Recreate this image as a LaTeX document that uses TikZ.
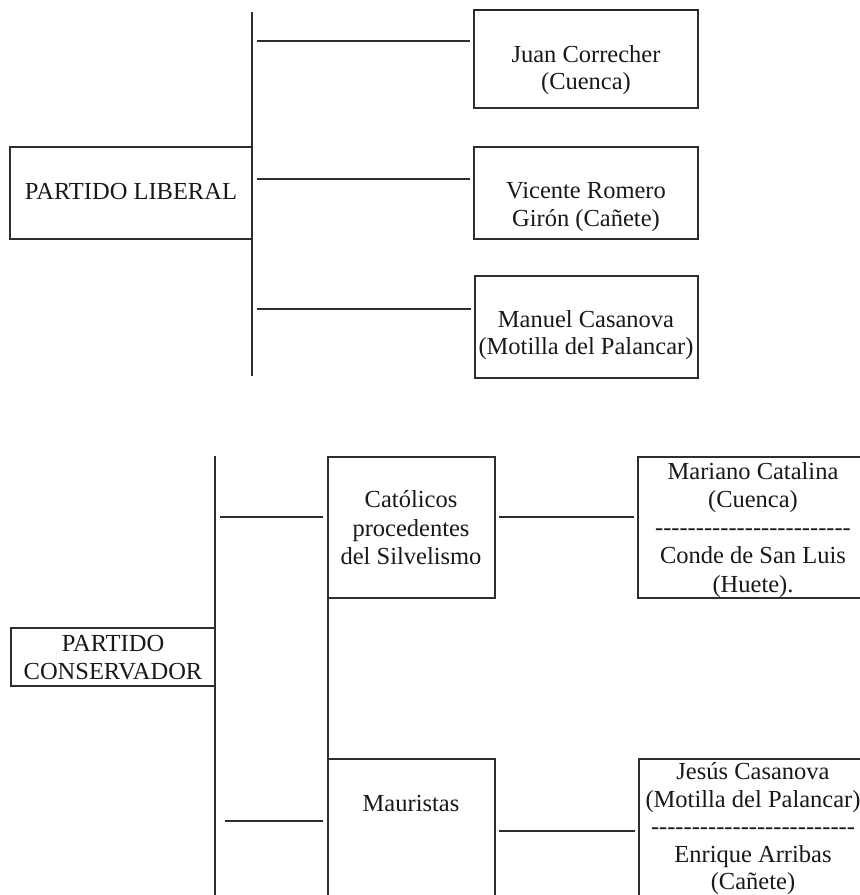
\documentclass[tikz,border=0pt]{standalone}
\usepackage{fontspec}
\setmainfont{Liberation Serif}
\def\hy{-{}}
\def\hyfive{\hy\hy\hy\hy\hy}
\begin{document}
\begin{tikzpicture}[x=1pt,y=-1pt,
  ink/.style={draw=black!82,line width=1.25pt},
  box/.style={ink,rectangle,inner sep=0pt,outer sep=0pt,anchor=north west},
  txt/.style={inner sep=0pt,align=center,text=black!90,font=\fontsize{24.5}{28}\selectfont},
  conn/.style={ink}]
\useasboundingbox (0,0) rectangle (860,895);
\clip (0,0) rectangle (860,895);
\fill[white] (0,0) rectangle (860,895);

% ---------------- PARTIDO LIBERAL ----------------
\node[box,minimum width=242pt,minimum height=92pt] (lib) at (10,147) {};
\node[txt] (libt) at (131,192) {PARTIDO LIBERAL};
\coordinate (bus1top) at (252,12);
\coordinate (bus1bot) at (252,376);
\draw[conn] (bus1top) -- (bus1bot);

\node[box,minimum width=224pt,minimum height=98pt] (juan) at (474,10) {};
\draw[line width=2.2pt,black!85] (juan.north west) -- (juan.north east);
\node[txt,font=\fontsize{24.5}{27}\selectfont] (juant) at (586,70.5) {Juan Correcher\\(Cuenca)};

\node[box,minimum width=224pt,minimum height=92pt] (vic) at (474,147) {};
\node[txt] (vict) at (586,207) {Vicente Romero\\Girón (Cañete)};

\node[box,minimum width=223pt,minimum height=102pt] (man) at (475,276) {};
\node[txt,font=\fontsize{24.5}{27}\selectfont] (mant) at (586,335.5) {Manuel Casanova\\(Motilla del Palancar)};

\coordinate (a1) at (257,41);  \coordinate (b1) at (470,41);
\coordinate (a2) at (257,179); \coordinate (b2) at (470,179);
\coordinate (a3) at (257,309); \coordinate (b3) at (471,309);
\draw[conn] (a1) -- (b1);
\draw[conn] (a2) -- (b2);
\draw[conn] (a3) -- (b3);

% ---------------- PARTIDO CONSERVADOR ----------------
\node[box,minimum width=204pt,minimum height=58pt] (cons) at (11,628) {};
\node[txt] (const) at (113,658) {PARTIDO\\CONSERVADOR};
\coordinate (bus2top) at (215,456);
\coordinate (bus2bot) at (215,900);
\draw[conn] (bus2top) -- (bus2bot);

\node[box,minimum width=167pt,minimum height=141pt] (cat) at (328,457) {};
\node[txt,font=\fontsize{24.5}{28.5}\selectfont] (catt) at (411,528) {Católicos\\procedentes\\del Silvelismo};

\node[box,minimum width=167pt,minimum height=150pt] (maur) at (328,759) {};
\node[txt] (maurt) at (411,803.6) {Mauristas};
\draw[conn] (cat.south west) -- (maur.north west);

\node[box,minimum width=230pt,minimum height=141pt] (mar) at (638,457) {};
\node[txt,font=\fontsize{24.5}{28.25}\selectfont] (mart) at (753,529.6)
  {Mariano Catalina\\(Cuenca)\\\hyfive\hyfive\hyfive\hyfive\hy\hy\hy\hy\\Conde de San Luis\\(Huete).};

\node[box,minimum width=230pt,minimum height=150pt] (jes) at (639,759) {};
\node[txt,font=\fontsize{24.5}{27.5}\selectfont] (jest) at (753,829)
  {Jesús Casanova\\(Motilla del Palancar)\\\hyfive\hyfive\hyfive\hyfive\hyfive\\Enrique Arribas\\(Cañete)};

\coordinate (c1) at (220,517); \coordinate (d1) at (323,517);
\coordinate (c2) at (225,821); \coordinate (d2) at (323,821);
\draw[conn] (c1) -- (d1);
\draw[conn] (c2) -- (d2);

\coordinate (e1) at (499,517); \coordinate (f1) at (634,517);
\coordinate (e2) at (499,831); \coordinate (f2) at (635,831);
\draw[conn] (e1) -- (f1);
\draw[conn] (e2) -- (f2);
\end{tikzpicture}
\end{document}
